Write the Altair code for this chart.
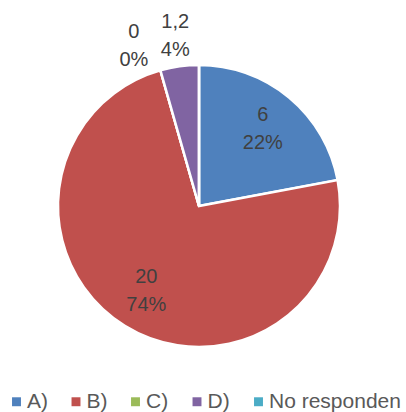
import altair as alt
import pandas as pd

# Answers and their counts
categories = ["A)", "B)", "C)", "D)", "No responden"]
values = [6, 20, 0, 1.2, 0]
colors = ["#4F81BD", "#C0504D", "#9BBB59", "#8064A2", "#4BACC6"]

total = sum(values)


def fmt_label(v):
    num = f"{v:g}".replace(".", ",")
    pct = round(100 * v / total)
    return f"{num}\n{pct}%"


df = pd.DataFrame({
    "cat": categories,
    "value": values,
    "idx": list(range(len(categories))),
    "label": [fmt_label(v) for v in values],
})

theta_scale = alt.Scale(domain=[0, total], range=[0, 6.283185307179586])
color_scale = alt.Scale(domain=categories, range=colors)

base = alt.Chart(df).transform_stack(
    stack="value", groupby=[], as_=["s0", "s1"], sort=[alt.SortField("idx")]
).transform_calculate(mid="(datum.s0 + datum.s1) / 2")

arcs = base.mark_arc(outerRadius=141, stroke="white", strokeWidth=2.5).encode(
    theta=alt.Theta("s0:Q", scale=theta_scale),
    theta2="s1:Q",
    color=alt.Color(
        "cat:N",
        scale=color_scale,
        sort=categories,
        legend=alt.Legend(
            title=None,
            orient="none",
            direction="horizontal",
            columns=5,
            legendX=6,
            legendY=391,
            symbolType="square",
            symbolSize=80,
            symbolStrokeWidth=0,
            labelFont="Liberation Sans",
            labelFontSize=21,
            labelColor="#595959",
            labelOffset=0,
            columnPadding=17.5,
            padding=0,
            labelLimit=300,
        ),
    ),
)

text_props = dict(
    font="Liberation Sans",
    fontSize=20,
    color="#404040",
    lineBreak="\n",
    lineHeight=28,
    align="center",
    baseline="middle",
    dy=-14,
)

inner = base.transform_filter("datum.value >= 5").mark_text(radius=100, **text_props).encode(
    theta=alt.Theta("mid:Q", scale=theta_scale), text="label:N"
)
outer_d = base.transform_filter("datum.cat == 'D)'").mark_text(radius=172, **text_props).encode(
    theta=alt.Theta("mid:Q", scale=theta_scale), text="label:N"
)
c_props = dict(text_props, dx=-18, dy=-9)
outer_c = base.transform_filter("datum.cat == 'C)'").mark_text(radius=172, **c_props).encode(
    theta=alt.Theta("mid:Q", scale=theta_scale), text="label:N"
)

chart = alt.layer(arcs, inner, outer_d, outer_c).properties(
    width=398,
    height=412,
    autosize=alt.AutoSizeParams(type="none"),
    padding={"left": 0, "top": 0, "right": 8, "bottom": 0},
).configure_view(stroke=None).configure(background="white")

chart.save("out.html", embed_options={"renderer": "svg", "actions": False})
